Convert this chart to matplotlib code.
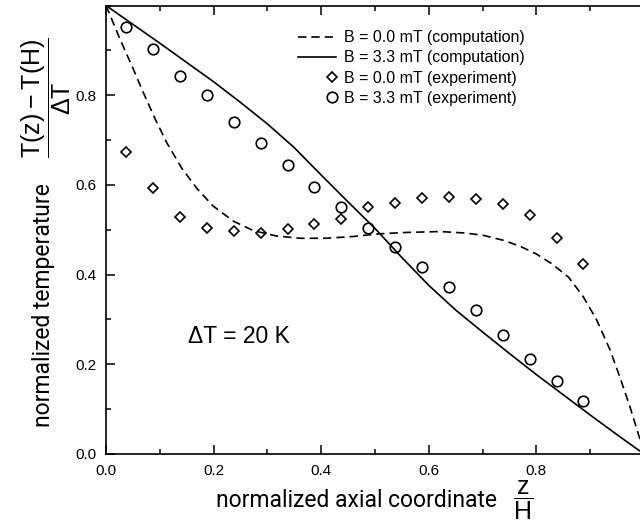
import numpy as np
import matplotlib
matplotlib.use('Agg')
import matplotlib.pyplot as plt
from matplotlib.legend_handler import HandlerLine2D
from matplotlib.ticker import MultipleLocator, FixedLocator

# computed profiles
z_b0 = [0.0, 0.0074, 0.026, 0.048, 0.069, 0.091, 0.113, 0.141, 0.169, 0.199,
        0.237, 0.274, 0.317, 0.361, 0.410, 0.460, 0.509, 0.559, 0.621, 0.664,
        0.70, 0.74, 0.77, 0.80, 0.83, 0.86, 0.887, 0.912, 0.937, 0.955, 0.974,
        0.993, 1.0]
t_b0 = [1.0, 0.979, 0.925, 0.866, 0.807, 0.748, 0.694, 0.637, 0.592, 0.553,
        0.519, 0.498, 0.486, 0.481, 0.481, 0.485, 0.491, 0.494, 0.496, 0.493,
        0.488, 0.476, 0.463, 0.446, 0.423, 0.394, 0.351, 0.299, 0.232, 0.172,
        0.105, 0.031, 0.0]

z_b33 = [0.0, 0.05, 0.1, 0.15, 0.2, 0.25, 0.3, 0.35, 0.4, 0.45, 0.5, 0.55,
         0.6, 0.65, 0.7, 0.75, 0.8, 0.85, 0.9, 0.95, 1.0]
t_b33 = [1.0, 0.958, 0.916, 0.873, 0.830, 0.784, 0.736, 0.683, 0.622, 0.562,
         0.503, 0.438, 0.376, 0.321, 0.272, 0.224, 0.177, 0.132, 0.087, 0.043,
         0.0]

# measurements
z_exp = [0.0375, 0.0875, 0.1375, 0.1875, 0.2375, 0.2875, 0.3375, 0.3875, 0.4375,
         0.4875, 0.5375, 0.5875, 0.6375, 0.6875, 0.7375, 0.7875, 0.8375, 0.8875]
exp_b0 = [0.673, 0.592, 0.528, 0.505, 0.497, 0.492, 0.501, 0.513, 0.525,
          0.551, 0.560, 0.570, 0.574, 0.568, 0.557, 0.533, 0.482, 0.424]
exp_b33 = [0.953, 0.904, 0.843, 0.800, 0.740, 0.694, 0.644, 0.596, 0.551,
           0.503, 0.461, 0.416, 0.372, 0.320, 0.265, 0.211, 0.162, 0.119]

tick_vals = [0.0, 0.2, 0.4, 0.6, 0.8]

plt.rcParams['font.family'] = ['Liberation Sans', 'DejaVu Sans']
plt.rcParams['mathtext.fontset'] = 'custom'
plt.rcParams['mathtext.rm'] = 'Roboto'
plt.rcParams['mathtext.default'] = 'regular'


class MarkerRight(HandlerLine2D):
    # marker at the right end of the handle, next to the text
    def get_xdata(self, legend, xdescent, ydescent, width, height, fontsize):
        xm = -xdescent + width - 0.3 * fontsize
        return np.array([xm - 1, xm + 1]), np.array([xm])


fig = plt.figure(figsize=(6.4, 5.29), dpi=100)
ax = fig.add_axes([0.1656, 0.1418, 0.8406, 0.8478])

l1, = ax.plot(z_b0, t_b0, color='black', lw=1.2, ls=(0, (5, 3)),
              label='B = 0.0 mT (computation)')
l2, = ax.plot(z_b33, t_b33, color='black', lw=1.2,
              label='B = 3.3 mT (computation)')
l3, = ax.plot(z_exp, exp_b0, ls='none', marker='D', ms=5.2, mfc='none',
              mec='black', mew=1.2, label='B = 0.0 mT (experiment)')
l4, = ax.plot(z_exp, exp_b33, ls='none', marker='o', ms=7.6, mfc='none',
              mec='black', mew=1.2, label='B = 3.3 mT (experiment)')

ax.set_xlim(0, 1)
ax.set_ylim(0, 1)
ax.xaxis.set_major_locator(FixedLocator(tick_vals))
ax.yaxis.set_major_locator(FixedLocator(tick_vals))
ax.xaxis.set_minor_locator(MultipleLocator(0.1))
ax.yaxis.set_minor_locator(MultipleLocator(0.1))
ax.tick_params(which='both', direction='in', top=True, right=False,
               labelsize=11, width=1.1)
ax.tick_params(which='major', length=6.5)
ax.tick_params(axis='x', which='major', pad=7)
ax.tick_params(axis='y', which='major', pad=7)
ax.tick_params(which='minor', length=3.5)
for s in ['left', 'bottom', 'top']:
    ax.spines[s].set_linewidth(1.2)
ax.spines['right'].set_visible(False)

# axis labels: text plus a larger fraction
lab_kw = dict(family='Roboto', size=16.5)
fig.text(0.5563, 0.0422, 'normalized axial coordinate', ha='center',
         va='baseline', **lab_kw)
fig.text(0.8172, 0.0539, r'$\dfrac{z}{H}$', ha='center', va='center', size=18)
fig.text(0.0781, 0.4234, 'normalized temperature', rotation=90,
         rotation_mode='anchor', ha='center', va='baseline', **lab_kw)
fig.text(0.0727, 0.8147, r'$\dfrac{T(z) - T(H)}{\Delta T}$', rotation=90,
         ha='center', va='center', size=18)

ax.text(0.152, 0.262, 'ΔT = 20 K', fontsize=16.5, va='center', ha='left')

ax.legend(handles=[l1, l2, l3, l4], loc='upper left',
          bbox_to_anchor=(0.357, 0.945), frameon=False, fontsize=11.5,
          handlelength=2.4, handletextpad=0.45, labelspacing=0.33,
          borderpad=0, borderaxespad=0,
          handler_map={l3: MarkerRight(), l4: MarkerRight()})

fig.savefig('out.png', dpi=100)
